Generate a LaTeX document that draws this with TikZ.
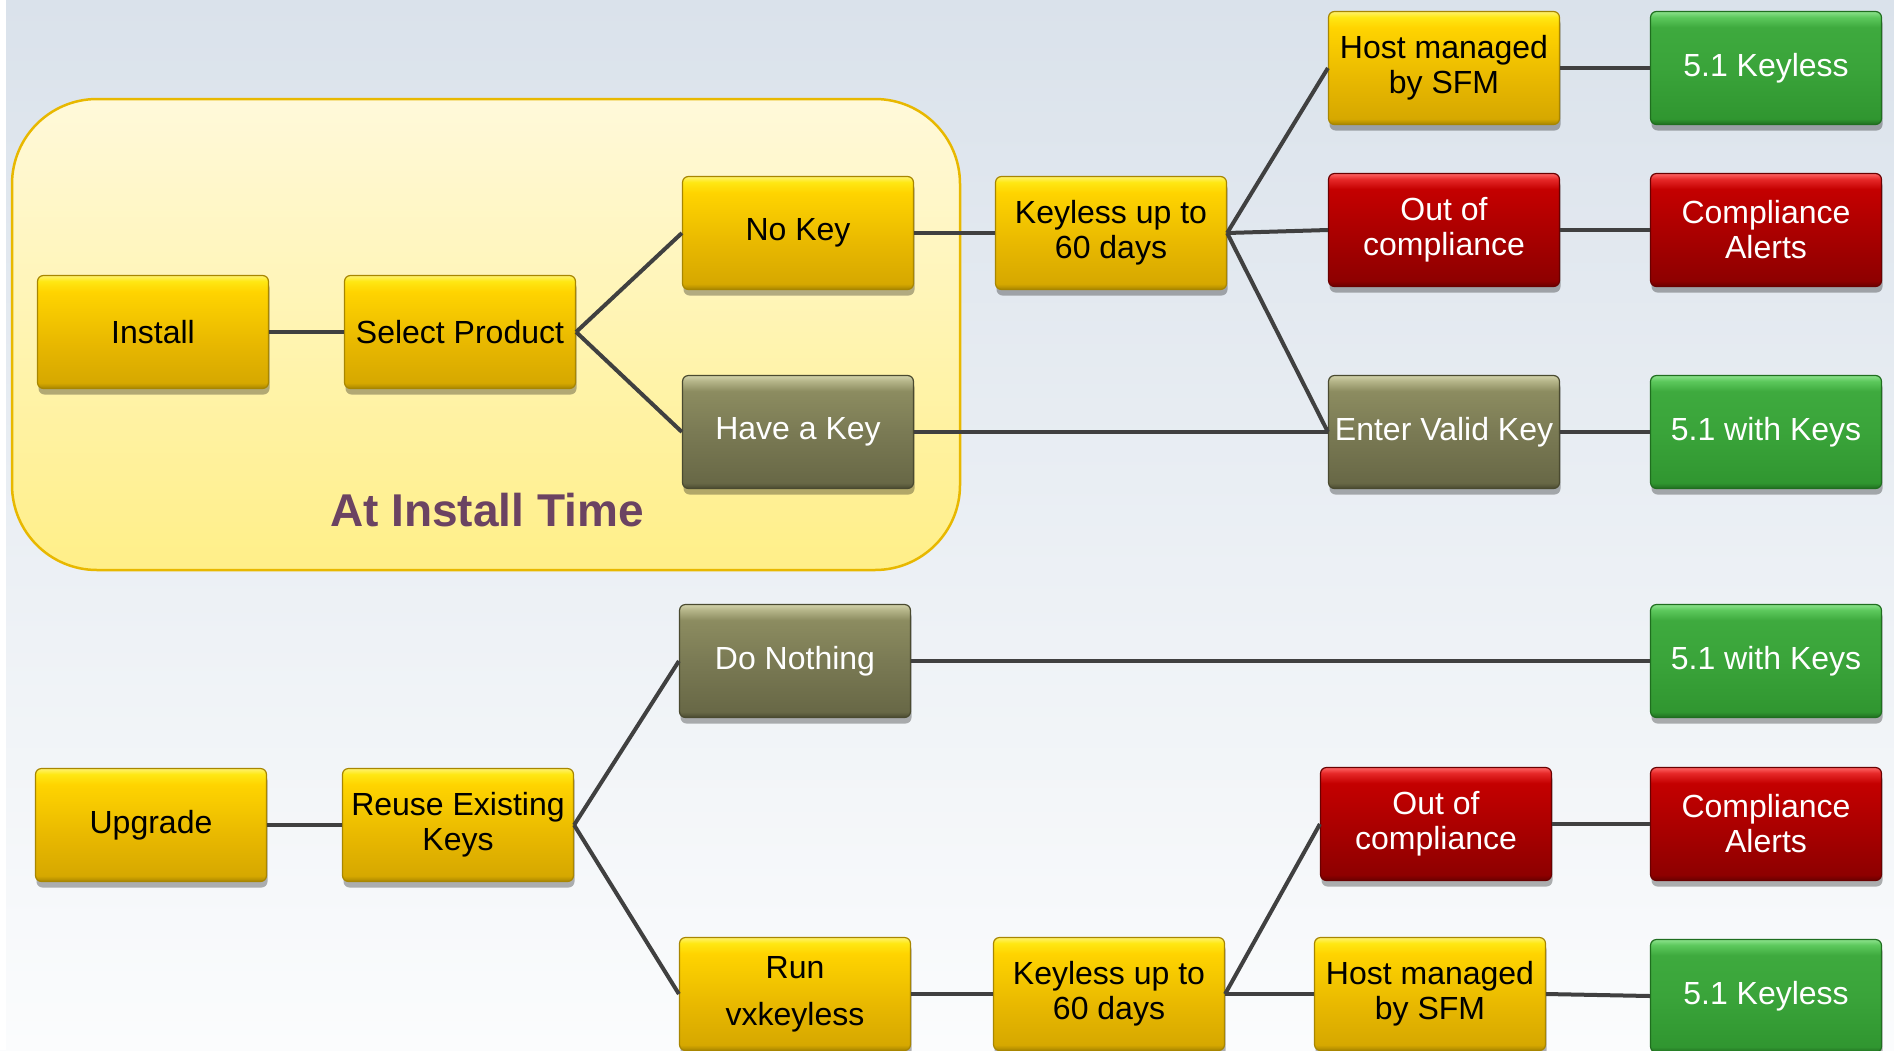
\documentclass[tikz,border=0pt]{standalone}
\usepackage{fontspec}
\setmainfont{Liberation Sans}
\usetikzlibrary{shadows}
\definecolor{bgtop}{HTML}{DAE2EB}
\definecolor{bgbot}{HTML}{FBFCFD}
\definecolor{boxtop}{HTML}{FFF9DA}
\definecolor{boxbot}{HTML}{FFEF88}
\definecolor{boxedge}{HTML}{E8B800}
\definecolor{conncol}{HTML}{404040}
\definecolor{titlecol}{HTML}{6B4362}
\definecolor{yedge}{HTML}{A88600}
\definecolor{oedge}{HTML}{4A4A30}
\definecolor{redge}{HTML}{6A0000}
\definecolor{gedge}{HTML}{1F6E1F}
\pgfdeclareverticalshading{yelsh}{100bp}{color(0bp)=(yedge); color(25bp)=(yedge); color(27.5bp)=({rgb,255:red,214;green,168;blue,0}); color(45bp)=({rgb,255:red,232;green,184;blue,0}); color(68bp)=({rgb,255:red,255;green,212;blue,0}); color(72.5bp)=({rgb,255:red,255;green,232;blue,20}); color(75bp)=({rgb,255:red,255;green,242;blue,110}); color(100bp)=({rgb,255:red,255;green,242;blue,110})}
\pgfdeclareverticalshading{olvsh}{100bp}{color(0bp)=(oedge); color(25bp)=(oedge); color(27.5bp)=({rgb,255:red,104;green,104;blue,70}); color(50bp)=({rgb,255:red,122;green,122;blue,84}); color(68bp)=({rgb,255:red,140;green,140;blue,96}); color(72.5bp)=({rgb,255:red,180;green,180;blue,136}); color(75bp)=({rgb,255:red,210;green,210;blue,170}); color(100bp)=({rgb,255:red,210;green,210;blue,170})}
\pgfdeclareverticalshading{redsh}{100bp}{color(0bp)=(redge); color(25bp)=(redge); color(27.5bp)=({rgb,255:red,142;green,0;blue,0}); color(50bp)=({rgb,255:red,172;green,0;blue,0}); color(68bp)=({rgb,255:red,196;green,0;blue,0}); color(72.5bp)=({rgb,255:red,230;green,40;blue,40}); color(75bp)=({rgb,255:red,255;green,100;blue,100}); color(100bp)=({rgb,255:red,255;green,100;blue,100})}
\pgfdeclareverticalshading{grnsh}{100bp}{color(0bp)=(gedge); color(25bp)=(gedge); color(27.5bp)=({rgb,255:red,48;green,150;blue,48}); color(50bp)=({rgb,255:red,58;green,164;blue,58}); color(68bp)=({rgb,255:red,62;green,170;blue,62}); color(72.5bp)=({rgb,255:red,92;green,200;blue,92}); color(75bp)=({rgb,255:red,140;green,226;blue,140}); color(100bp)=({rgb,255:red,140;green,226;blue,140})}
\begin{document}
\begin{tikzpicture}[x=1pt,y=-1pt,
  basebox/.style={rounded corners=6pt, minimum width=231pt, minimum height=113pt,
    inner sep=2pt, align=center, font=\fontsize{32}{35}\selectfont, line width=1.2pt,
    drop shadow={shadow xshift=1pt, shadow yshift=-6pt, opacity=0.3, fill=black}},
  ynode/.style={basebox, shading=yelsh, draw=yedge, text=black},
  onode/.style={basebox, shading=olvsh, draw=oedge, text=white},
  rnode/.style={basebox, shading=redsh, draw=redge, text=white},
  gnode/.style={basebox, shading=grnsh, draw=gedge, text=white},
  conn/.style={draw=conncol, line width=4pt}]
\useasboundingbox (0,0) rectangle (1894,1050);
\clip (0,0) rectangle (1894,1050);
\shade[top color=bgtop, bottom color=bgbot] (0,0) rectangle (1894,1050);
\fill[white] (0,0) rectangle (6,1050);
% install-time region
\draw[rounded corners=85pt, top color=boxtop, bottom color=boxbot, draw=boxedge, line width=2.5pt]
  (12,99) rectangle (960,570);
\node[font=\bfseries\fontsize{46}{50}\selectfont, text=titlecol] (title) at (487,510) {At Install Time};
% top nodes
\node[ynode] (install) at (153,332) {Install};
\node[ynode] (select) at (460,332) {Select Product};
\node[ynode] (nokey) at (798,233) {No Key};
\node[onode] (havekey) at (798,432) {Have a Key};
\node[ynode] (keyless1) at (1111,233) {Keyless up to\\60 days};
\node[ynode] (host1) at (1444,68) {Host managed\\by SFM};
\node[rnode] (out1) at (1444,230) {Out of\\compliance};
\node[onode] (enter) at (1444,432) {Enter Valid Key};
\node[gnode] (kl1) at (1766,68) {5.1 Keyless};
\node[rnode] (ca1) at (1766,230) {Compliance\\Alerts};
\node[gnode] (wk1) at (1766,432) {5.1 with Keys};
% bottom nodes
\node[ynode] (upgrade) at (151,825) {Upgrade};
\node[ynode] (reuse) at (458,825) {Reuse Existing\\Keys};
\node[onode] (nothing) at (795,661) {Do Nothing};
\node[ynode] (run) at (795,994) {Run\\[12pt]vxkeyless};
\node[gnode] (wk2) at (1766,661) {5.1 with Keys};
\node[ynode] (keyless2) at (1109,994) {Keyless up to\\60 days};
\node[rnode] (out2) at (1436,824) {Out of\\compliance};
\node[ynode] (host2) at (1430,994) {Host managed\\by SFM};
\node[rnode] (ca2) at (1766,824) {Compliance\\Alerts};
\node[gnode] (kl2) at (1766,996) {5.1 Keyless};
% connectors
\draw[conn] (install.east) -- (select.west);
\draw[conn] (select.east) -- (nokey.west);
\draw[conn] (select.east) -- (havekey.west);
\draw[conn] (nokey.east) -- (keyless1.west);
\draw[conn] (havekey.east) -- (enter.west);
\draw[conn] (keyless1.east) -- (host1.west);
\draw[conn] (keyless1.east) -- (out1.west);
\draw[conn] (keyless1.east) -- (enter.west);
\draw[conn] (host1.east) -- (kl1.west);
\draw[conn] (out1.east) -- (ca1.west);
\draw[conn] (enter.east) -- (wk1.west);
\draw[conn] (upgrade.east) -- (reuse.west);
\draw[conn] (reuse.east) -- (nothing.west);
\draw[conn] (reuse.east) -- (run.west);
\draw[conn] (nothing.east) -- (wk2.west);
\draw[conn] (run.east) -- (keyless2.west);
\draw[conn] (keyless2.east) -- (out2.west);
\draw[conn] (keyless2.east) -- (host2.west);
\draw[conn] (out2.east) -- (ca2.west);
\draw[conn] (host2.east) -- (kl2.west);
\end{tikzpicture}
\end{document}
